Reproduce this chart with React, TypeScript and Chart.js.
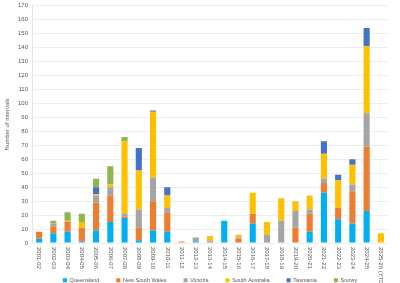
import React, { useEffect, useRef } from 'react';
import { Chart, registerables } from 'chart.js';

Chart.register(...registerables);

const categories = [
  '2001-02', '2002-03', '2003-04', '2004-05', '2005-06', '2006-07', '2007-08', '2008-09',
  '2009-10', '2010-11', '2011-12', '2012-13', '2013-14', '2014-15', '2015-16', '2016-17',
  '2017-18', '2018-19', '2019-20', '2020-21', '2021-22', '2022-23', '2023-24', '2024-25',
  '2025-26 (YTD)',
];

const queensland = [3, 7, 8, 1, 9, 15, 18, 2, 9, 8, 0, 1, 0, 16, 0, 14, 0, 0, 0, 8, 36, 17, 14, 23, 0];
const newSouthWales = [5, 5, 7, 10, 20, 19, 1, 9, 21, 14, 1, 0, 1, 0, 3, 7, 0, 0, 11, 13, 7, 8, 23, 46, 0];
const victoria = [0, 2, 0, 0, 5, 6, 2, 13, 17, 3, 0, 3, 1, 0, 1, 0, 6, 16, 12, 3, 3, 0, 5, 24, 0];
const southAustralia = [0, 0, 1, 4, 1, 2, 52, 28, 47, 9, 0, 0, 3, 0, 2, 15, 9, 16, 7, 10, 18, 20, 14, 48, 7];
const tasmania = [0, 0, 0, 0, 5, 0, 0, 16, 1, 6, 0, 0, 0, 0, 0, 0, 0, 0, 0, 0, 9, 4, 4, 13, 0];
const snowy = [0, 2, 6, 6, 6, 13, 3, 0, 0, 0, 0, 0, 0, 0, 0, 0, 0, 0, 0, 0, 0, 0, 0, 0, 0];

const seriesNames = ['Queensland', 'New South Wales', 'Victoria', 'South Australia', 'Tasmania', 'Snowy'];
const seriesValues = [queensland, newSouthWales, victoria, southAustralia, tasmania, snowy];
const seriesColors = ['#00B0F0', '#ED7D31', '#A5A5A5', '#FFC000', '#4472C4', '#8DB550'];

const yTickMax = 170;
const yTickStep = 10;
const yTitle = 'Number of intervals';

const FONT = '"Liberation Sans", Arial, sans-serif';
const TEXT = '#595959';

export default function App() {
  const ref = useRef<HTMLCanvasElement>(null);

  useEffect(() => {
    document.body.style.margin = '0';
    const canvas = ref.current;
    if (!canvas) return;

    const xLabelPlugin = {
      id: 'xLabelsVertical',
      afterDraw(chart: any) {
        const { ctx, chartArea } = chart;
        const xs = chart.scales.x;
        ctx.save();
        ctx.font = `6px ${FONT}`;
        ctx.fillStyle = TEXT;
        ctx.textAlign = 'left';
        ctx.textBaseline = 'middle';
        categories.forEach((c, i) => {
          const x = xs.getPixelForValue(i);
          ctx.save();
          ctx.translate(x, chartArea.bottom + 4);
          ctx.rotate(Math.PI / 2);
          ctx.fillText(c, 0, 0);
          ctx.restore();
        });
        ctx.restore();
      },
    };

    const chart = new Chart(canvas, {
      type: 'bar',
      data: {
        labels: categories,
        datasets: seriesNames.map((name, i) => ({
          label: name,
          data: seriesValues[i],
          backgroundColor: seriesColors[i],
          borderWidth: 0,
          barPercentage: 0.43,
          categoryPercentage: 1,
        })),
      },
      options: {
        animation: false,
        responsive: false,
        layout: { padding: { top: 0, right: 12, left: 0, bottom: 0 } },
        plugins: {
          tooltip: { enabled: false },
          legend: {
            position: 'bottom',
            fullSize: false,
            labels: {
              boxWidth: 4,
              boxHeight: 4,
              padding: 17,
              color: TEXT,
              font: { size: 5.5, family: FONT },
            },
          },
        },
        scales: {
          x: {
            stacked: true,
            grid: { display: false },
            border: { display: false },
            ticks: { display: false },
            afterFit: (s: any) => { s.height = 17.5; },
          },
          y: {
            stacked: true,
            min: 0,
            max: yTickMax,
            ticks: {
              stepSize: yTickStep,
              color: TEXT,
              padding: 4,
              font: { size: 6, family: FONT, lineHeight: 0.6 },
            },
            grid: { color: '#EDEEF2', drawTicks: false },
            border: { color: '#E4E5EA' },
            title: {
              display: true,
              text: yTitle,
              color: TEXT,
              font: { size: 6, family: FONT },
              padding: { top: 4, bottom: 0 },
            },
            afterFit: (s: any) => { s.width = 32; },
          },
        },
      },
      plugins: [xLabelPlugin],
    });

    return () => chart.destroy();
  }, []);

  return (
    <div style={{ position: 'fixed', left: 0, top: 0, width: 400, height: 293 }}>
      <canvas ref={ref} width={400} height={293} />
    </div>
  );
}
